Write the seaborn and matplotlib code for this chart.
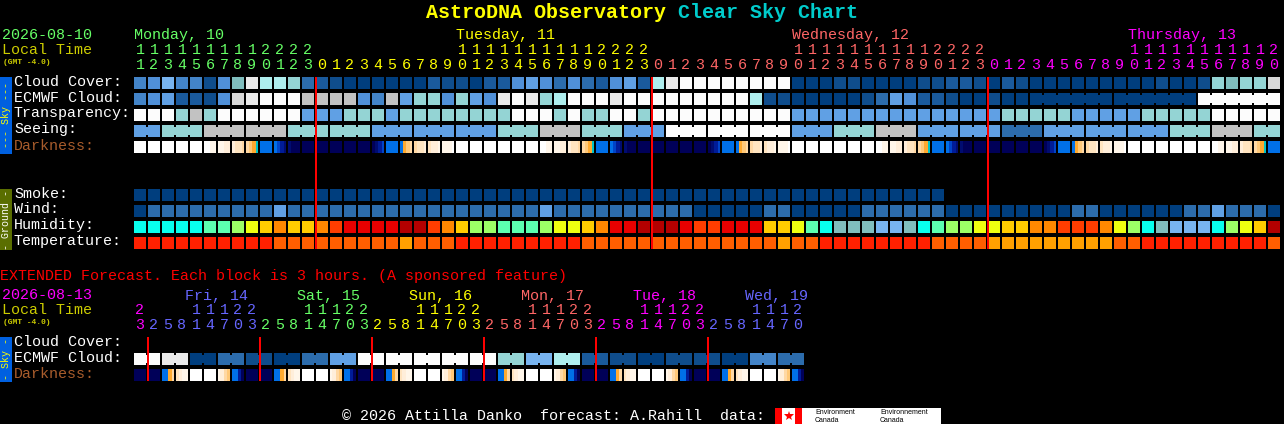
import numpy as np
import seaborn as sns
import matplotlib.pyplot as plt
from matplotlib.colors import ListedColormap
from matplotlib.patches import Rectangle
from matplotlib.transforms import ScaledTranslation

# one letter per block, see palette below
cloud_cover = "efheebftxv vudcbaaaaa acbbaccfgf dfdcfgcvxw wwwwwwwaaa bbaaaabbcc bacbaaaaaa aaabaabutu uz"
ecmwf_cloud = "efgccbfzxw wwyyyyfeyg uufugfxwxu vwwwxwwwww wwwwvbbaaa aabdgfccba abaaaaaaaa aaaaaawwww ww"
transparency = "wwwuyuwwww wwggguuugu uuuuuuuwww uwuuwwuwww wwwwwwwggg gggggggggg gguuuuuggg gguuuuuwww ww"
seeing = "gguuuyyyyy yuuuuuuggg gggggguuuy yyuuugggww wwwwwwwggg uuuyyygggg ggdddggggg gggguuuyyy uu"
smoke = "aaaaaaaaaa aaaaaaaaaa aaaaaaaaaa aaaaaaaaaa aaaaaaaaaa aaaaaaaa"
wind = "addddddddd gddddddddd dddddddddg dddddddddd aaaaaddaaa aaddddddaa aaaaaaadda aaaaaddgdd da"
humidity = "0000011234 5445677778 8654221112 3345778887 6677744310 ttthht0122 3344556665 320thhh023 48"
temperature = "XXXXXXXXXX YYYYYYYYYZ YYYXXXXXXX XXYYYYYYYY YYYYYYZYYX XXXXXXXYYY YZZZZZZZZZ YYXXXXXXXX XY"

# darkness changes inside a block so it has four values per block
darkness = [
    "WWWW", "WWWW", "WWWW", "WWWW", "WWWW", "WWPP", "PPQQ", "QRRS", "STUC", "BBBB", "BMKL", "LNNN",
    "NNNN", "NNNN", "NNNN", "NNNN", "NNNN", "NLKM", "BBBB", "BUTS", "SRRQ", "RQQP", "PPPW",
    "WWWW", "WWWW", "WWWW", "WWWW", "WWWW", "WWWW", "WWPP", "PPQQ", "QRRS", "STUC", "BBBB", "BMKL", "LNNN",
    "NNNN", "NNNN", "NNNN", "NNNN", "NNNN", "NLKM", "BBBB", "BUTS", "SRRQ", "RQQP", "PPPW",
    "WWWW", "WWWW", "WWWW", "WWWW", "WWWW", "WWWW", "WWPP", "PPQQ", "QRRS", "STUC", "BBBB", "BMKL", "LNNN",
    "NNNN", "NNNN", "NNNN", "NNNN", "NNNN", "NLKM", "BBBB", "BUTS", "SRRQ", "RQQP", "PPPW",
    "WWWW", "WWWW", "WWWW", "WWWW", "WWWW", "WWWW", "WWPP", "PPQQ", "QRRS", "STUC", "BBBB",
]

ext_ecmwf = "ww xx aa dd bb aa dd gg ww ww ww ww ww uu hh vv cc bb aa bb bb aa ee dd"
ext_darkness = [
    "NNNN", "NNNN", "BBUS", "RQPP", "WWWW", "WWWW", "PQST", "BBKN",
    "NNNN", "NNNN", "BBUS", "RQPP", "WWWW", "WWWW", "PQST", "BBKN",
    "NNNN", "NNNN", "BBUS", "RQPP", "WWWW", "WWWW", "PQST", "BBKN",
    "NNNN", "NNNN", "BBUS", "RQPP", "WWWW", "WWWW", "PQST", "BBKN",
    "NNNN", "NNNN", "BBUS", "RQPP", "WWWW", "WWWW", "PQST", "BBKN",
    "NNNN", "NNNN", "BBUS", "RQPP", "WWWW", "WWWW", "PQST", "BBKN",
]

hours = list(range(11, 24)) + list(range(24)) + list(range(24)) + list(range(21))
ext_hours = [23] + [2, 5, 8, 11, 14, 17, 20, 23] * 5 + [2, 5, 8, 11, 14, 17, 20]

row_labels = ["Cloud Cover:", "ECMWF Cloud:", "Transparency:", "Seeing:", "Darkness:",
              "", "", "Smoke:", "Wind:", "Humidity:", "Temperature:"]
ext_row_labels = ["Cloud Cover:", "ECMWF Cloud:", "Darkness:"]

day_names = ["Monday, 10", "Tuesday, 11", "Wednesday, 12", "Thursday, 13"]
day_colors = ["#66FF66", "#FFFF00", "#FF6666", "#FF00FF"]
ext_day_names = ["Fri, 14", "Sat, 15", "Sun, 16", "Mon, 17", "Tue, 18", "Wed, 19"]
ext_day_colors = ["#FF00FF", "#6666FF", "#66FF66", "#FFFF00", "#FF6666", "#FF00FF", "#6666FF"]

palette = {
    "a": "#003E7E", "b": "#0F4D8C", "c": "#1A5A9C", "d": "#2C6CAC", "e": "#4384C8", "f": "#5090D8",
    "g": "#60A0E4", "h": "#78B4F0", "t": "#80BEBE", "u": "#94D4D4", "v": "#AEEEEE", "w": "#FCFCFC",
    "x": "#EAEAEA", "y": "#C2C2C2", "z": "#D8D8D8",
    "0": "#08FFEE", "1": "#5CFFB0", "2": "#9CFF66", "3": "#EEFF10", "4": "#FFCC00", "5": "#FF8800",
    "6": "#FF3D00", "7": "#E80000", "8": "#B30000",
    "X": "#FF2000", "Y": "#FF5E00", "Z": "#FFA000",
    "W": "#FFFFFF", "P": "#FFF6EA", "Q": "#FFEEDA", "R": "#FFE4C0", "S": "#FFD8A4", "T": "#FFC878",
    "U": "#FFAA30", "C": "#00C4C8", "B": "#0070E8", "M": "#0044C8", "K": "#001C98", "L": "#000C70",
    "N": "#000058",
}
letters = list(palette)
SUB = 4
W, H = 1284, 424

sns.set_style("dark")
plt.rcParams["font.family"] = ["Liberation Mono", "DejaVu Sans Mono"]
plt.rcParams["axes.facecolor"] = "black"
plt.rcParams["figure.facecolor"] = "black"
plt.rcParams["savefig.facecolor"] = "black"

# dpi 72 so one point is one pixel
fig = plt.figure(figsize=(W / 72, H / 72), dpi=72)
label_shift = ScaledTranslation(0, 3 / 72, fig.dpi_scale_trans)


def pixel_axes(left, top, width, height):
    return fig.add_axes([left / W, 1 - (top + height) / H, width / W, height / H])


def row_values(s, ncols):
    s = s.replace(" ", "")
    vals = [letters.index(c) for c in s for _ in range(SUB)]
    return vals + [np.nan] * (ncols * SUB - len(vals))


def fine_values(tokens):
    return [letters.index(c) for tok in tokens for c in tok]


def joined_blocks(ax, row, s, blocks):
    # blocks sharing one forecast value are linked across the gap
    s = s.replace(" ", "")
    start = 0
    for size in blocks:
        if size > 1:
            ax.hlines(row + 0.5, (start + 0.5) * SUB, (start + size - 0.5) * SUB, colors=palette[s[start]],
                      lw=8, capstyle="butt", antialiased=False, zorder=3)
        start += size


def draw_panel(ax, rows, hrs, colors, labels):
    matrix = np.array(rows, dtype=float)
    nrows, ncols = matrix.shape[0], len(hrs)
    sns.heatmap(matrix, mask=np.isnan(matrix), cmap=ListedColormap(list(palette.values())),
                vmin=-0.5, vmax=len(letters) - 0.5, cbar=False, ax=ax,
                xticklabels=False, yticklabels=False)
    ax.hlines(np.arange(nrows + 1), 0, ncols * SUB, colors="black", lw=4, antialiased=False, zorder=2)
    ax.vlines(np.arange(ncols + 1) * SUB, 0, nrows, colors="black", lw=2, antialiased=False, zorder=2)
    # red line at each midnight, one pixel into the first block of the day
    midnights = [i for i in range(1, ncols) if hrs[i] < hrs[i - 1]]
    ax.vlines((np.array(midnights) + 1 / 14) * SUB, 2 / 16, nrows - 2 / 16, colors="#FF0000", lw=2,
              capstyle="butt", zorder=4)
    ax.set_xticks((np.arange(ncols) + 0.5) * SUB)
    ax.set_xticklabels([(str(h // 10) if h > 9 else "") + "\n" + str(h % 10) for h in hrs],
                       rotation=0, fontsize=15, linespacing=1.07)
    ax.xaxis.tick_top()
    ax.tick_params(axis="x", length=0, pad=3)
    day = 0
    for i, lab in enumerate(ax.get_xticklabels()):
        if i > 0 and hrs[i] < hrs[i - 1]:
            day += 1
        lab.set_color(colors[day])
    ax.set_yticks(np.arange(nrows) + 0.5)
    ax.set_yticklabels(labels, rotation=0, fontsize=15)
    ax.tick_params(axis="y", length=0, pad=119)
    for lab in ax.get_yticklabels():
        lab.set_ha("left")
        lab.set_color("#A85C2C" if lab.get_text() == "Darkness:" else "white")
        lab.set_transform(lab.get_transform() + label_shift)
    return midnights


over = fig.add_axes([0, 0, 1, 1])
over.set_xlim(0, W)
over.set_ylim(H, 0)
over.axis("off")

ax = pixel_axes(133, 75, 82 * 14, 11 * 16)
main_rows = [row_values(cloud_cover, 82), row_values(ecmwf_cloud, 82), row_values(transparency, 82),
             row_values(seeing, 82), fine_values(darkness), row_values("", 82), row_values("", 82),
             row_values(smoke, 82), row_values(wind, 82), row_values(humidity, 82), row_values(temperature, 82)]
mids = draw_panel(ax, main_rows, hours, day_colors, row_labels)
joined_blocks(ax, 1, ecmwf_cloud, [1] * 64 + [6, 6, 6])
joined_blocks(ax, 3, seeing, [2] + [3] * 26 + [2])

ax2 = pixel_axes(133, 335, 48 * 14, 3 * 16)
ext_rows = [row_values("", 48), row_values(ext_ecmwf, 48), fine_values(ext_darkness)]
ext_mids = draw_panel(ax2, ext_rows, ext_hours, ext_day_colors, ext_row_labels)
joined_blocks(ax2, 1, ext_ecmwf, [2] * 24)

# day names sit above the 10 o'clock block
first_ten = [0] + [m + 10 for m in mids]
for name, col, color in zip(day_names, first_ten, day_colors):
    ax.annotate(name, (col * SUB, 0), xycoords="data", xytext=(1, 33), textcoords="offset points",
                color=color, fontsize=15, ha="left", va="bottom", annotation_clip=False)
for name, col, color in zip(ext_day_names, ext_mids, ext_day_colors[1:]):
    ax2.annotate(name, (col * SUB, 0), xycoords="data", xytext=(38, 32), textcoords="offset points",
                 color=color, fontsize=15, ha="left", va="bottom", annotation_clip=False)

# title and left column text
over.text(426, 12, "AstroDNA Observatory", color="#FFFF00", fontsize=20, fontweight="bold", va="center")
over.text(678, 12, "Clear Sky Chart", color="#00CCCC", fontsize=20, fontweight="bold", va="center")
over.text(2, 35, "2026-08-10", color="#66FF66", fontsize=15, va="center")
over.text(2, 50, "Local Time", color="#CCCC00", fontsize=15, va="center")
over.text(3, 62, "(GMT -4.0)", color="#CCCC00", fontsize=8, fontweight="bold", va="center")
over.text(0, 276, "EXTENDED Forecast. Each block is 3 hours. (A sponsored feature)", color="#FF0000",
          fontsize=15, va="center")
over.text(2, 295, "2026-08-13", color="#FF00FF", fontsize=15, va="center")
over.text(2, 310, "Local Time", color="#CCCC00", fontsize=15, va="center")
over.text(3, 322, "(GMT -4.0)", color="#CCCC00", fontsize=8, fontweight="bold", va="center")

# side bars
for top, height, face, text, tcolor in [(77, 77, "#0060E0", "--- Sky ---", "#FFFF00"),
                                        (189, 61, "#5A6E00", "- Ground -", "white"),
                                        (337, 45, "#0060E0", "- Sky -", "#FFFF00")]:
    over.add_patch(Rectangle((0, top), 12, height, facecolor=face, edgecolor="none"))
    over.text(6, top + height / 2, text, color=tcolor, fontsize=10, rotation=90, ha="center", va="center")

# footer and logo
over.text(342, 416, "\u00a9 2026 Attilla Danko  forecast: A.Rahill  data:", color="white", fontsize=15, va="center")
over.add_patch(Rectangle((775, 408), 166, 16, facecolor="white", edgecolor="none"))
over.add_patch(Rectangle((775, 408), 7, 16, facecolor="#FF0000", edgecolor="none"))
over.add_patch(Rectangle((795, 408), 7, 16, facecolor="#FF0000", edgecolor="none"))
over.plot([788.5], [416], marker="*", color="#FF0000", ms=10, mew=0)
for x, word in [(815, "Environment"), (880, "Environnement")]:
    over.text(x, 412, word, color="black", fontsize=7, family="Liberation Sans", va="center")
    over.text(x, 420, "Canada", color="black", fontsize=7, family="Liberation Sans", va="center")

fig.savefig("out.png", dpi=72)
